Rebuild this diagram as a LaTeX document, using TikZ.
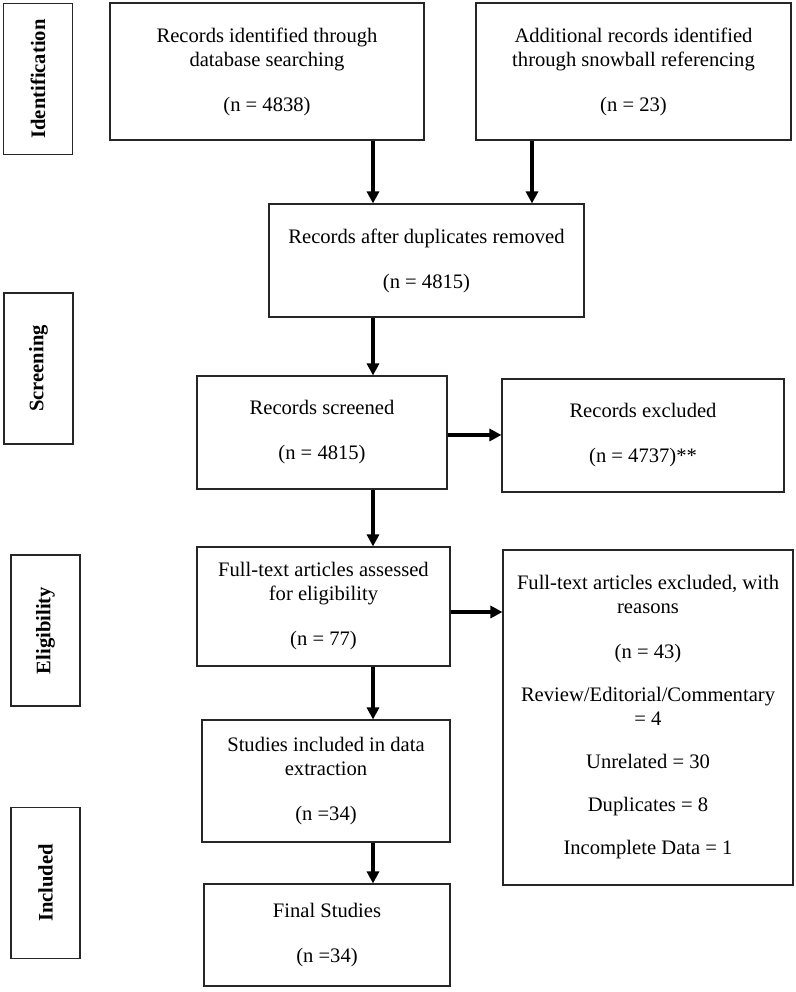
\documentclass[tikz,border=0pt]{standalone}
\usepackage{fontspec}
\setmainfont{Liberation Serif}
\usetikzlibrary{arrows.meta}

\begin{document}
\begin{tikzpicture}[x=1pt, y=-1pt, ->, >={Triangle[length=12pt, width=12pt]}, line width=3.5pt,
		box/.style={draw=black!85, line width=1.1pt, align=center, inner sep=0pt, font=\fontsize{20.6}{24}\selectfont},
		stage/.style={box, rotate=90, minimum width=151pt, minimum height=69pt, font=\fontsize{20.6}{24}\selectfont\bfseries}]
		\useasboundingbox (0,0) rectangle (795,992);
		
		\node[stage] (id) at (38, 79) {Identification};
		\node[stage] (sc) at (38.5, 368.5) {Screening};
		\node[stage] (el) at (45.5, 630.5) {Eligibility};
		\node[stage] (in) at (45.5, 883) {Included};
		
		\node[box, minimum width=314pt, minimum height=137pt] (0) at (267, 71.5) {Records identified through\\database searching\\[21pt](n = 4838)};
		\node[box, minimum width=315pt, minimum height=137pt] (1) at (633.5, 71.5) {Additional records identified\\through snowball referencing\\[21pt](n = 23)};
		\node[box, minimum width=315pt, minimum height=113pt] (2) at (426.5, 260.5) {Records after duplicates removed\\[21pt](n = 4815)};
		\node[box, minimum width=250pt, minimum height=113pt] (3) at (322, 432.5) {Records screened\\[21pt](n = 4815)};
		\node[box, minimum width=282pt, minimum height=113pt] (4) at (643, 435.5) {Records excluded\\[21pt](n = 4737)**};
		\node[box, minimum width=253pt, minimum height=119pt] (5) at (323.5, 606.5) {Full-text articles assessed\\for eligibility\\[21pt](n = 77)};
		\node[box, minimum width=290pt, minimum height=335pt] (6) at (648, 717.5) {Full-text articles excluded, with\\reasons\\[21pt](n = 43)\\[19pt]Review/Editorial/Commentary\\= 4\\[19pt]Unrelated = 30\\[19pt]Duplicates = 8\\[19pt]Incomplete Data = 1};
		\node[box, minimum width=248pt, minimum height=122pt] (7) at (326, 781) {Studies included in data\\extraction\\[21pt](n =34)};
		\node[box, minimum width=246pt, minimum height=102pt] (8) at (327, 935) {Final Studies\\[21pt](n =34)};
		
		\coordinate (m) at (373, 0);
		\coordinate (s) at (532, 0);
		\coordinate (r) at (0, 435);
		\coordinate (q) at (0, 612);
		
		\path (0.south -| m) edge (2.north -| m)
			(1.south -| s) edge (2.north -| s)
			(2.south -| m) edge (3.north -| m)
			(3.east |- r) edge (4.west |- r)
			(3.south -| m) edge (5.north -| m)
			(5.east |- q) edge (6.west |- q)
			(5.south -| m) edge (7.north -| m)
			(7.south -| m) edge (8.north -| m);
	\end{tikzpicture}
\end{document}
